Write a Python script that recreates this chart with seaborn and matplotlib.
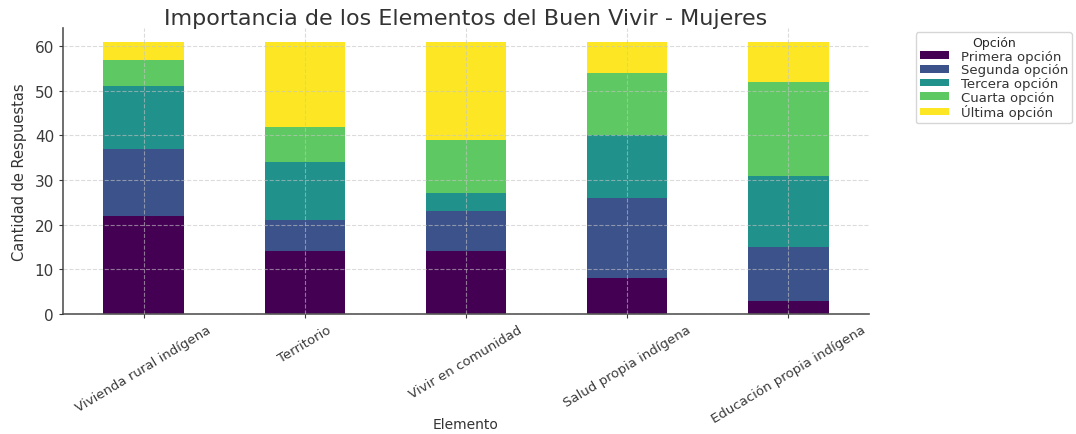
import matplotlib
matplotlib.use("Agg")
import matplotlib.pyplot as plt
import seaborn as sns
import numpy as np
import pandas as pd

elementos = ["Vivienda rural indígena", "Territorio", "Vivir en comunidad",
             "Salud propia indígena", "Educación propia indígena"]
opciones = ["Primera opción", "Segunda opción", "Tercera opción",
            "Cuarta opción", "Última opción"]

primera = [22, 14, 14, 8, 3]
segunda = [15, 7, 9, 18, 12]
tercera = [14, 13, 4, 14, 16]
cuarta = [6, 8, 12, 14, 21]
ultima = [4, 19, 22, 7, 9]

valores = [primera, segunda, tercera, cuarta, ultima]

sns.set_theme(style="white")
plt.rcParams['font.family'] = ['DejaVu Sans']

colores = plt.get_cmap("viridis")(np.linspace(0, 1, 5))

df = pd.DataFrame(np.array(valores).T, index=elementos, columns=opciones)
acumulado = df.cumsum(axis=1)

fig = plt.figure(figsize=(10.76, 4.35), dpi=100)
ax = fig.add_axes([0.0586, 0.276, 0.749, 0.657])

# barras acumuladas, de la mas alta a la mas baja, para simular el apilado
for i in reversed(range(len(opciones))):
    sns.barplot(x=elementos, y=acumulado[opciones[i]].values, color=colores[i],
                width=0.5, linewidth=0, label=opciones[i], ax=ax, saturation=1)

ax.set_xlim(-0.5, 4.5)
ax.set_ylim(0, 64.05)
ax.set_yticks(range(0, 61, 10))
ax.grid(True, linestyle="--", color="#c4c4c4", linewidth=0.8, alpha=0.6)
ax.set_axisbelow(False)
for s in ["top", "right"]:
    ax.spines[s].set_visible(False)
for s in ["left", "bottom"]:
    ax.spines[s].set_color("#555555")
    ax.spines[s].set_linewidth(1.2)

ax.tick_params(axis="both", labelsize=11, colors="#3a3a3a", length=3,
               width=0.8, left=True, bottom=True)
ax.tick_params(axis="x", labelsize=9.5)
plt.setp(ax.get_xticklabels(), rotation=31, ha="center")
ax.set_title("Importancia de los Elementos del Buen Vivir - Mujeres",
             fontsize=16, color="#333333", pad=3)
ax.set_xlabel("Elemento", fontsize=10, color="#333333")
ax.set_ylabel("Cantidad de Respuestas", fontsize=10.5, color="#333333")
ax.xaxis.set_label_coords(0.5, -0.36)
ax.yaxis.set_label_coords(-0.045, 0.5)

handles, labels = ax.get_legend_handles_labels()
leg = ax.legend(handles[::-1], labels[::-1], title="Opción",
                bbox_to_anchor=(1.058, 0.986), loc="upper left", fontsize=9.5,
                title_fontsize=9, frameon=True, borderaxespad=0.0,
                labelspacing=0.05, handleheight=0.5, handlelength=2.2,
                borderpad=0.3, handletextpad=0.9)
leg.get_frame().set_edgecolor("#cccccc")
for t in leg.get_texts():
    t.set_color("#333333")

fig.savefig("out.png", dpi=100)
